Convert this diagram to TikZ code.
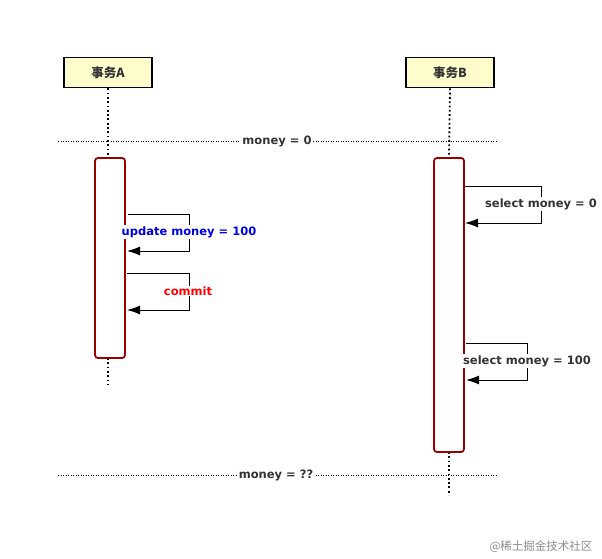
\documentclass[tikz,border=0pt]{standalone}
\usepackage{fontspec}
\setmainfont{DejaVu Sans}
\newfontfamily\cjk{Noto Sans CJK SC}
\usetikzlibrary{arrows.meta}
\begin{document}
\begin{tikzpicture}[x=1pt,y=-1pt,
  actor/.style={draw=black,line width=1.8pt,fill=yellow!20,minimum width=88pt,minimum height=30pt,font=\cjk\bfseries\fontsize{12.5}{14}\selectfont,text=black!80},
  life/.style={line width=1.8pt,dash pattern=on 1.8pt off 2.5pt},
  act/.style={draw=red!60!black,line width=1.8pt,rounded corners=3pt,fill=white},
  sep/.style={line width=0.7pt,dash pattern=on 1pt off 1.5pt},
  msg/.style={line width=1pt,-{Latex[length=13pt,width=9pt]}},
  lbl/.style={fill=white,inner sep=1pt,font=\bfseries\fontsize{11.5}{13}\selectfont,text=black!80}]
\useasboundingbox (0,0) rectangle (602,559);
\node[actor] (A) at (108,72.5) {事务A};
\node[actor] (B) at (450,72.5) {事务B};
\coordinate (a1) at (108,158); \coordinate (a2) at (108,358); \coordinate (a3) at (108,385);
\coordinate (b1) at (449,158); \coordinate (b2) at (449,452); \coordinate (b3) at (449,495);
\draw[life] (A.south) -- (a1); \draw[life] (a2) -- (a3);
\draw[life] (B.south) -- (b1); \draw[life] (b2) -- (b3);
\coordinate (s1l) at (58,141); \coordinate (s1r) at (498,141);
\coordinate (s2l) at (58,475); \coordinate (s2r) at (498,475);
\draw[sep] (s1l) -- (s1r); \draw[sep] (s2l) -- (s2r);
\node[lbl] (m0) at (277,141) {money = 0};
\node[lbl] (m1) at (276,475) {money = ??};
\draw[act] (95,158) rectangle (125,358);
\draw[act] (434,158) rectangle (464,452);
\coordinate (p1) at (128,214); \coordinate (p2) at (189,214); \coordinate (p3) at (189,251); \coordinate (p4) at (127,251);
\draw[msg] (p1) -- (p2) -- (p3) -- (p4);
\node[lbl,text=blue!90!black] (u) at (189,232) {update money = 100};
\coordinate (q1) at (127,273); \coordinate (q2) at (189,273); \coordinate (q3) at (189,310); \coordinate (q4) at (127,310);
\draw[msg] (q1) -- (q2) -- (q3) -- (q4);
\node[lbl,text=red] (c) at (188,291) {commit};
\coordinate (r1) at (465,186); \coordinate (r2) at (541,186); \coordinate (r3) at (541,223); \coordinate (r4) at (465,223);
\draw[msg] (r1) -- (r2) -- (r3) -- (r4);
\node[lbl] (s0) at (541,204) {select money = 0};
\coordinate (t1) at (466,343); \coordinate (t2) at (527,343); \coordinate (t3) at (527,380); \coordinate (t4) at (466,380);
\draw[msg] (t1) -- (t2) -- (t3) -- (t4);
\node[lbl] (s1) at (527,361) {select money = 100};
\node[text=black!45,font=\cjk\fontsize{11.5}{13}\selectfont] (w) at (541,547) {@稀土掘金技术社区};
\end{tikzpicture}
\end{document}
